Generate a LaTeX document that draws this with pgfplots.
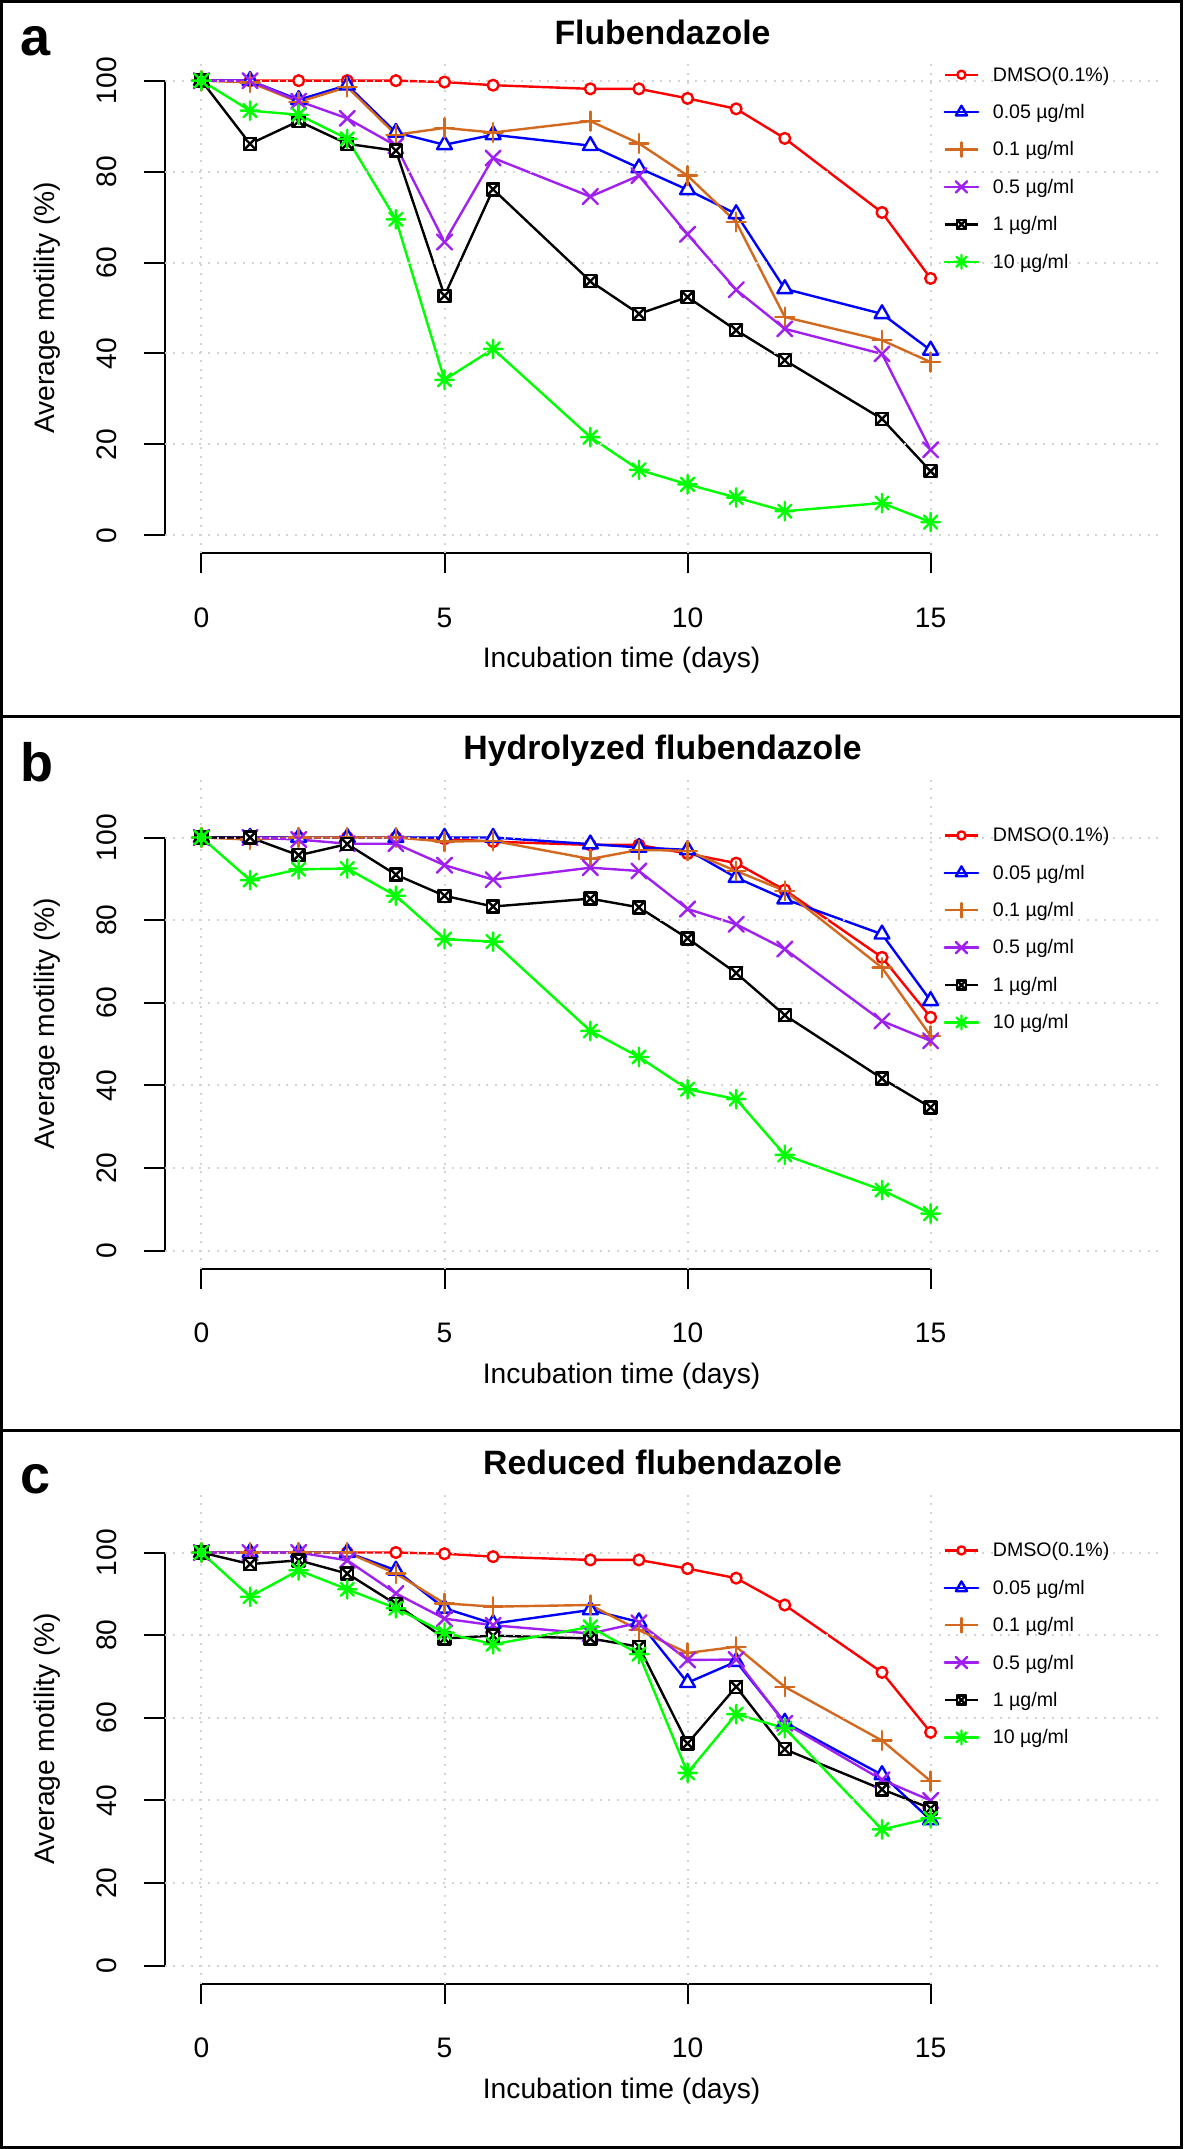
\documentclass[border=0pt]{standalone}
\usepackage{fontspec}
\setmainfont{Liberation Sans}
\usepackage{pgfplots}
\pgfplotsset{compat=1.18}
\usepackage{pgfplotstable}

\definecolor{rorange}{RGB}{210,105,30}
\definecolor{rpurple}{RGB}{160,32,240}
\definecolor{rgreen}{RGB}{0,255,0}
\definecolor{rgrid}{RGB}{211,211,211}

\pgfdeclareplotmark{rcirc}{%
  \pgfpathcircle{\pgfpointorigin}{\pgfplotmarksize}%
  \pgfusepathqfillstroke}
\pgfdeclareplotmark{rtri}{%
  \pgfpathmoveto{\pgfqpoint{0pt}{\pgfplotmarksize}}%
  \pgfpathlineto{\pgfqpointpolar{-30}{\pgfplotmarksize}}%
  \pgfpathlineto{\pgfqpointpolar{-150}{\pgfplotmarksize}}%
  \pgfpathclose
  \pgfusepathqfillstroke}
\pgfdeclareplotmark{rplus}{%
  \pgfpathmoveto{\pgfqpoint{-\pgfplotmarksize}{0pt}}\pgfpathlineto{\pgfqpoint{\pgfplotmarksize}{0pt}}%
  \pgfpathmoveto{\pgfqpoint{0pt}{-\pgfplotmarksize}}\pgfpathlineto{\pgfqpoint{0pt}{\pgfplotmarksize}}%
  \pgfusepathqstroke}
\pgfdeclareplotmark{rx}{%
  \pgfpathmoveto{\pgfqpoint{-\pgfplotmarksize}{-\pgfplotmarksize}}\pgfpathlineto{\pgfqpoint{\pgfplotmarksize}{\pgfplotmarksize}}%
  \pgfpathmoveto{\pgfqpoint{-\pgfplotmarksize}{\pgfplotmarksize}}\pgfpathlineto{\pgfqpoint{\pgfplotmarksize}{-\pgfplotmarksize}}%
  \pgfusepathqstroke}
\pgfdeclareplotmark{rsqx}{%
  \pgfpathrectangle{\pgfqpoint{-\pgfplotmarksize}{-\pgfplotmarksize}}{\pgfqpoint{2\pgfplotmarksize}{2\pgfplotmarksize}}%
  \pgfusepathqfillstroke
  \pgfpathmoveto{\pgfqpoint{-\pgfplotmarksize}{-\pgfplotmarksize}}\pgfpathlineto{\pgfqpoint{\pgfplotmarksize}{\pgfplotmarksize}}%
  \pgfpathmoveto{\pgfqpoint{-\pgfplotmarksize}{\pgfplotmarksize}}\pgfpathlineto{\pgfqpoint{\pgfplotmarksize}{-\pgfplotmarksize}}%
  \pgfusepathqstroke}
\pgfdeclareplotmark{rast}{%
  \pgfpathmoveto{\pgfqpoint{-\pgfplotmarksize}{0pt}}\pgfpathlineto{\pgfqpoint{\pgfplotmarksize}{0pt}}%
  \pgfpathmoveto{\pgfqpoint{0pt}{-\pgfplotmarksize}}\pgfpathlineto{\pgfqpoint{0pt}{\pgfplotmarksize}}%
  \pgfpathmoveto{\pgfqpoint{-.7071\pgfplotmarksize}{-.7071\pgfplotmarksize}}\pgfpathlineto{\pgfqpoint{.7071\pgfplotmarksize}{.7071\pgfplotmarksize}}%
  \pgfpathmoveto{\pgfqpoint{-.7071\pgfplotmarksize}{.7071\pgfplotmarksize}}\pgfpathlineto{\pgfqpoint{.7071\pgfplotmarksize}{-.7071\pgfplotmarksize}}%
  \pgfusepathqstroke}

\pgfplotstableread{
day dmso c005 c01 c05 c1 c10
0 100 100 100 100 100 100
1 100 100 99.6 100 86.1 93.4
2 100 95.8 95.3 95.5 91.1 92.5
3 100 99.0 98.6 91.7 86.1 87.2
4 100 88.6 88.1 85.7 84.6 69.5
5 99.7 85.9 89.6 64.5 52.7 34.2
6 99.0 88.1 88.6 83.0 76.1 41.0
8 98.2 85.7 91.1 74.5 55.9 21.6
9 98.2 80.8 86.2 79.1 48.7 14.4
10 96.1 76.0 79.1 66.2 52.4 11.2
11 93.8 70.7 68.9 54.0 45.1 8.3
12 87.3 54.2 48.0 45.4 38.5 5.3
14 71.0 48.7 42.9 39.9 25.6 7.1
15 56.5 40.7 38.1 18.8 14.1 2.9
}\dataA

\pgfplotstableread{
day dmso c005 c01 c05 c1 c10
0 100 100 100 100 100 100
1 100 100 99.5 100 100 89.7
2 100 100 100 99.5 95.7 92.3
3 100 100 100 98.5 98.4 92.5
4 100 100 100 98.5 91.0 85.9
5 99.7 100 99.0 93.3 85.9 75.4
6 99.0 100 99.2 89.8 83.3 74.8
8 98.2 98.4 94.8 92.7 85.2 53.2
9 98.2 97.6 97.0 91.9 83.1 46.9
10 96.1 97.0 96.8 82.7 75.6 39.1
11 93.8 90.3 91.9 79.0 67.2 36.7
12 87.3 85.1 87.1 73.0 57.0 23.2
14 71.0 76.6 68.5 55.6 41.7 14.7
15 56.5 60.5 52.0 50.8 34.7 9.0
}\dataB

\pgfplotstableread{
day dmso c005 c01 c05 c1 c10
0 100 100 100 100 100 100
1 100 100 100 100 97.2 89.3
2 100 100 100 100 98.1 95.7
3 100 100 100 98.1 94.9 91.1
4 100 95.7 94.9 90.1 87.5 86.5
5 99.7 86.5 87.7 84.0 79.2 80.6
6 99.0 82.8 86.9 82.4 79.9 77.8
8 98.2 86.1 87.3 80.4 79.2 82.0
9 98.2 83.2 81.2 83.0 77.2 75.4
10 96.1 68.5 75.7 74.0 53.8 46.7
11 93.8 73.6 77.2 74.1 67.5 60.9
12 87.3 58.9 67.5 58.7 52.4 57.5
14 71.0 46.2 54.5 45.0 42.7 33.0
15 56.5 35.3 44.7 40.0 38.1 35.7
}\dataC

\pgfplotsset{
  rline/.style={line width=2.4pt, line cap=round, line join=round},
  solidleg/.style={legend image code/.code={%
      \draw[##1, mark=none, line cap=butt] (0pt,0pt) -- (33.4pt,0pt);
      \draw[##1, only marks, every mark/.append style={scale=0.75}] plot coordinates {(16.7pt,0pt)};}},
  dashleg/.style={legend image code/.code={%
      \draw[##1, mark=none, line cap=butt] (0pt,0pt) -- (6.7pt,0pt);
      \draw[##1, only marks, every mark/.append style={scale=0.75}] plot coordinates {(16.7pt,0pt)};
      \path (0pt,0pt) -- (33.4pt,0pt);}},
  sdmso/.style={rline, red, mark=rcirc, mark size=5.4pt, mark options={fill=white, solid}, solidleg},
  s005/.style={rline, blue, mark=rtri, mark size=8.6pt, mark options={fill=white, solid}, dashleg},
  s01/.style={rline, rorange, mark=rplus, mark size=9.5pt, solidleg},
  s05/.style={rline, rpurple, mark=rx, mark size=7.5pt, dashleg},
  s1/.style={rline, black, mark=rsqx, mark size=6pt, mark options={fill=white, solid}, solidleg},
  s10/.style={rline, rgreen, mark=rast, mark size=9.3pt, dashleg},
  rpanel/.style={
    scale only axis, width=997.5pt, height=491pt,
    anchor=south west,
    xmin=-0.76, xmax=19.76,
    axis x line*=bottom, axis y line*=left,
    x axis line style={draw=none}, y axis line style={draw=none},
    xtick={0,5,10,15}, ytick={0,20,40,60,80,100},
    tick align=outside, major tick length=20pt,
    tick style={line width=2pt, black},
    grid=major,
    grid style={rgrid, line width=2pt, dash pattern=on 2pt off 6.7pt},
    axis on top, clip=false,
    /pgf/number format/assume math mode=true,
    ticklabel style={font=\fontsize{28.2}{30}\selectfont, inner sep=0pt},
    xticklabel style={anchor=base},
    yticklabel style={rotate=90, anchor=south},
    xticklabel shift=53.8pt, yticklabel shift=27.8pt,
    legend cell align=left,
    legend style={draw=none, fill=none, anchor=north west, inner sep=0pt,
      font=\fontsize{19.6}{20}\selectfont,
      nodes={inner sep=0pt},
      column sep=13.5pt, row sep=21.7pt},
    legend entries={DMSO(0.1\%), 0.05 µg/ml, 0.1 µg/ml, 0.5 µg/ml, 1 µg/ml, 10 µg/ml},
  },
}

\newcommand{\allplots}[1]{%
  \addplot[sdmso] table[x=day,y=dmso]{#1};
  \addplot[s005] table[x=day,y=c005]{#1};
  \addplot[s01] table[x=day,y=c01]{#1};
  \addplot[s05] table[x=day,y=c05]{#1};
  \addplot[s1] table[x=day,y=c1]{#1};
  \addplot[s10] table[x=day,y=c10]{#1};
}

\begin{document}
\begin{tikzpicture}[x=1pt,y=1pt]
\useasboundingbox (0,0) rectangle (1183,2149);

% panel a
\begin{axis}[rpanel, at={(164.5pt,1595.5pt)}, ymin=-4, ymax=104,
  legend style={at={(axis description cs:0.7808,0.9914)}}]
\allplots{\dataA}
\draw[line width=2pt] (axis cs:0,-4) -- (axis cs:15,-4);
\draw[line width=2pt] (axis cs:-0.76,0) -- (axis cs:-0.76,100);
\end{axis}

% panel b
\begin{axis}[rpanel, at={(164.5pt,880pt)}, ymin=-4.4, ymax=114.4,
  legend style={at={(axis description cs:0.7808,0.8994)}}]
\allplots{\dataB}
\draw[line width=2pt] (axis cs:0,-4.4) -- (axis cs:15,-4.4);
\draw[line width=2pt] (axis cs:-0.76,0) -- (axis cs:-0.76,100);
\end{axis}

% panel c
\begin{axis}[rpanel, at={(164.5pt,165pt)}, ymin=-4.4, ymax=114.4,
  legend style={at={(axis description cs:0.7808,0.8994)}}]
\allplots{\dataC}
\draw[line width=2pt] (axis cs:0,-4.4) -- (axis cs:15,-4.4);
\draw[line width=2pt] (axis cs:-0.76,0) -- (axis cs:-0.76,100);
\end{axis}

% borders
\draw[line width=3pt] (1.5,1.5) rectangle (1181.5,2147.5);
\draw[line width=3pt] (0,1432.2) -- (1183,1432.2);
\draw[line width=3pt] (0,718) -- (1183,718);

% titles, labels
\foreach \yb/\ttl/\lab/\ly in {1595.5/Flubendazole/a/498, 880/Hydrolyzed flubendazole/b/487, 165/Reduced flubendazole/c/490}{
  \node[anchor=base, inner sep=0pt, font=\fontsize{33.8}{40}\selectfont\bfseries] at (662.5,\yb+509) {\ttl};
  \node[anchor=base, inner sep=0pt, font=\fontsize{28.2}{30}\selectfont] at (621.6,\yb-114.5) {Incubation time (days)};
  \node[rotate=90, anchor=base, inner sep=0pt, font=\fontsize{28.2}{30}\selectfont] at (54,\yb+245.5) {Average motility (\%)};
  \node[anchor=base west, inner sep=0pt, font=\fontsize{54}{60}\selectfont\bfseries] at (20,\yb+\ly) {\lab};
}
\end{tikzpicture}
\end{document}
